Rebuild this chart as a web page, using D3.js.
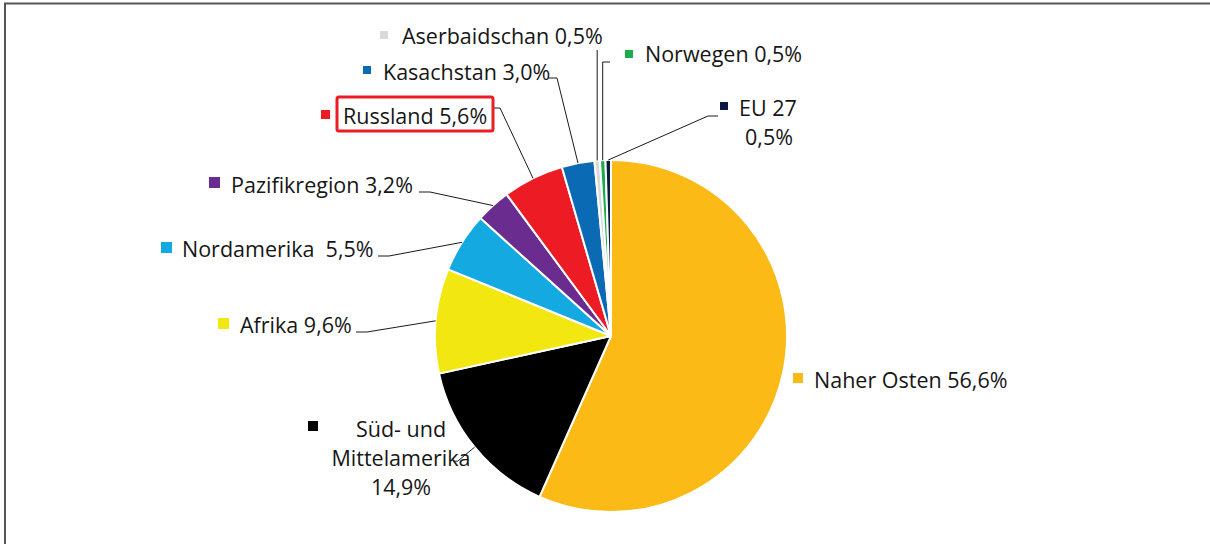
<!DOCTYPE html>
<html><head><meta charset="utf-8">
<script src="https://cdn.jsdelivr.net/npm/d3@7"></script>
<style>
html,body{margin:0;padding:0;background:#fff;}
svg{display:block;}
text{font-family:"Open Sans","Noto Sans",sans-serif;fill:#161616;white-space:pre;}
</style></head>
<body>
<svg id="chart" width="1210" height="544"></svg>
<script>
const categories = ["Naher Osten","Süd- und Mittelamerika","Afrika","Nordamerika","Pazifikregion","Russland","Kasachstan","Aserbaidschan","Norwegen","EU 27"];
const shares = [56.6,14.9,9.6,5.5,3.2,5.6,3.0,0.5,0.5,0.5];
const labelTexts = [
  ["Naher Osten 56,6%"],
  ["Süd- und","Mittelamerika","14,9%"],
  ["Afrika 9,6%"],
  ["Nordamerika  5,5%"],
  ["Pazifikregion 3,2%"],
  ["Russland 5,6%"],
  ["Kasachstan 3,0%"],
  ["Aserbaidschan 0,5%"],
  ["Norwegen 0,5%"],
  ["EU 27","0,5%"]
];
const colors = ["#FBBA16","#000000","#F2E711","#14A9E0","#6A2C8F","#ED1C24","#0A6AB4","#D9D9D9","#1AAE4B","#0D1A3F"];

// layout (label anchor positions)
const layout = [
  {mx:793,my:373,ms:10,tx:814,ty:388,anchor:"start"},
  {mx:308,my:421,ms:10,tx:401,ty:437,anchor:"middle",lh:29,leader:"sud"},
  {mx:218,my:318,ms:11,tx:240,ty:333,anchor:"start",lx:[356,367]},
  {mx:161,my:242,ms:11,tx:182,ty:257,anchor:"start",lx:[378,389]},
  {mx:209,my:177,ms:11,tx:231,ty:193,anchor:"start",lx:[419,430]},
  {mx:321,my:110,ms:9,tx:343,ty:124,anchor:"start",box:[337,97,156,34],lx:[493,500],ly:108},
  {mx:363,my:66,ms:8,tx:383,ty:80,anchor:"start",lx:[548,557],ly:78},
  {mx:380,my:31,ms:8,tx:402,ty:44,anchor:"start",vert:50},
  {mx:625,my:50,ms:8,tx:645,ty:62,anchor:"start",lx:[610,602],ly:62,vertFrom:true},
  {mx:720,my:102,ms:8,tx:739,ty:116,anchor:"start",lh:29,lx:[718,708],ly:116,secondRight:793}
];

const svg = d3.select("#chart");
// frame
svg.append("path").attr("d","M5,545 L5,3.5 L1211,3.5").attr("fill","none").attr("stroke","#555").attr("stroke-width",2);

const cx = 611, cy = 336, R = 176;
const pie = d3.pie().sort(null).value(d=>d).startAngle(0).endAngle(2*Math.PI);
const arcs = pie(shares);
const arc = d3.arc().innerRadius(0).outerRadius(R);
const edge = d3.arc().innerRadius(R).outerRadius(R);

const g = svg.append("g").attr("transform",`translate(${cx},${cy})`);
g.selectAll("path.slice").data(arcs).enter().append("path")
  .attr("class","slice").attr("d",arc)
  .attr("fill",(d,i)=>colors[i]).attr("stroke","#fff").attr("stroke-width",2).attr("stroke-linejoin","round");

// leaders
const lines = svg.append("g").attr("fill","none").attr("stroke","#1a1a1a").attr("stroke-width",1);
arcs.forEach((a,i)=>{
  const L = layout[i];
  const c = edge.centroid(a);
  const px = cx + c[0], py = cy + c[1];
  if (L.leader === "sud") {
    lines.append("polyline").attr("points",`${px},${py} ${px-17},${py+14} ${px-21},${py+14}`);
  } else if (L.vert) {
    lines.append("polyline").attr("points",`${px},${L.vert} ${px},${py}`);
  } else if (L.vertFrom) {
    lines.append("polyline").attr("points",`${L.lx[0]},${L.ly} ${px},${L.ly} ${px},${py}`);
  } else if (L.lx) {
    const ly = L.ly !== undefined ? L.ly : L.ty - 1;
    lines.append("polyline").attr("points",`${L.lx[0]},${ly} ${L.lx[1]},${ly} ${px},${py}`);
  }
});

// labels
const lab = svg.append("g");
categories.forEach((cat,i)=>{
  const L = layout[i];
  lab.append("rect").attr("x",L.mx).attr("y",L.my).attr("width",L.ms).attr("height",L.ms).attr("fill",colors[i]);
  if (L.box) {
    lab.append("rect").attr("x",L.box[0]).attr("y",L.box[1]).attr("width",L.box[2]).attr("height",L.box[3])
      .attr("rx",2).attr("fill","#fff").attr("stroke","#ED1C24").attr("stroke-width",3);
  }
  labelTexts[i].forEach((t,k)=>{
    const el = lab.append("text").attr("font-size",21.5).attr("xml:space","preserve").text(t);
    if (L.secondRight && k===1) {
      el.attr("x",L.secondRight).attr("y",L.ty + 29).attr("text-anchor","end");
    } else if (L.anchor==="middle") {
      el.attr("x",L.tx).attr("y",L.ty + k*L.lh).attr("text-anchor","middle");
    } else {
      el.attr("x",L.tx).attr("y",L.ty + k*(L.lh||29)).attr("text-anchor","start");
    }
  });
});
</script>
</body></html>
